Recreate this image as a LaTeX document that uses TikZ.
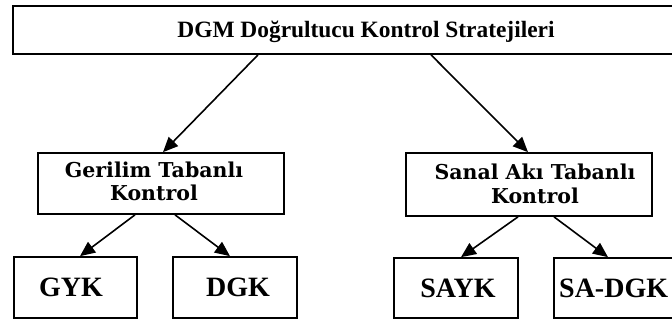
\documentclass[tikz,border=0pt]{standalone}
\usepackage{fontspec}
\setmainfont{Liberation Serif}
\newfontfamily\widefont{DejaVu Serif}
\usetikzlibrary{arrows.meta}

\begin{document}
\begin{tikzpicture}[x=1pt,y=-1pt,
  box/.style={draw, line width=1.7pt, inner sep=0pt, rectangle},
  link/.style={line width=1.6pt, -{Triangle[length=15pt,width=13pt]}},
  lbl/.style={align=center, inner sep=0pt, anchor=base},
  toptext/.style={lbl, font=\fontsize{23.4}{27}\selectfont\bfseries},
  midtext/.style={lbl, font=\widefont\fontsize{20.5}{23.5}\selectfont\bfseries},
  leaftext/.style={lbl, font=\fontsize{28}{30}\selectfont\bfseries}]
\useasboundingbox (0,0) rectangle (672,322);
\clip (0,0) rectangle (672,322);

% boxes
\node[box, minimum width=680pt, minimum height=48pt] (top) at (353,30) {};
\node[box, minimum width=246pt, minimum height=61pt] (ger) at (161,183.5) {};
\node[box, minimum width=246pt, minimum height=63pt] (san) at (529,184.5) {};
\node[box, minimum width=123pt, minimum height=61pt] (gyk) at (75.5,287.5) {};
\node[box, minimum width=124pt, minimum height=61pt] (dgk) at (235,287.5) {};
\node[box, minimum width=124pt, minimum height=60pt] (sayk) at (456,288) {};
\node[box, minimum width=124pt, minimum height=60pt] (sadgk) at (616,288) {};

% labels
\node[toptext] (ttop) at (366,37) {DGM Doğrultucu Kontrol Stratejileri};
\node[midtext] (tger) at (154,200.5) {Gerilim Tabanlı\\Kontrol};
\node[midtext] (tsan) at (535,203) {Sanal Akı Tabanlı\\Kontrol};
\node[leaftext] (tgyk) at (71,296) {GYK};
\node[leaftext] (tdgk) at (238,296) {DGK};
\node[leaftext] (tsayk) at (458,297) {SAYK};
\node[leaftext, anchor=base west] (tsadgk) at (559,297) {SA-DGK};

% connectors
\draw[link] ([xshift=-95pt]top.south) -- ([xshift=2pt]ger.north);
\draw[link] ([xshift=78pt]top.south) -- ([xshift=-1pt]san.north);
\draw[link] ([xshift=-26pt]ger.south) -- ([xshift=4.5pt]gyk.north);
\draw[link] ([xshift=14pt]ger.south) -- ([xshift=-5pt]dgk.north);
\draw[link] ([xshift=-11pt]san.south) -- ([xshift=5pt]sayk.north);
\draw[link] ([xshift=25pt]san.south) -- ([xshift=-8pt]sadgk.north);
\end{tikzpicture}
\end{document}
